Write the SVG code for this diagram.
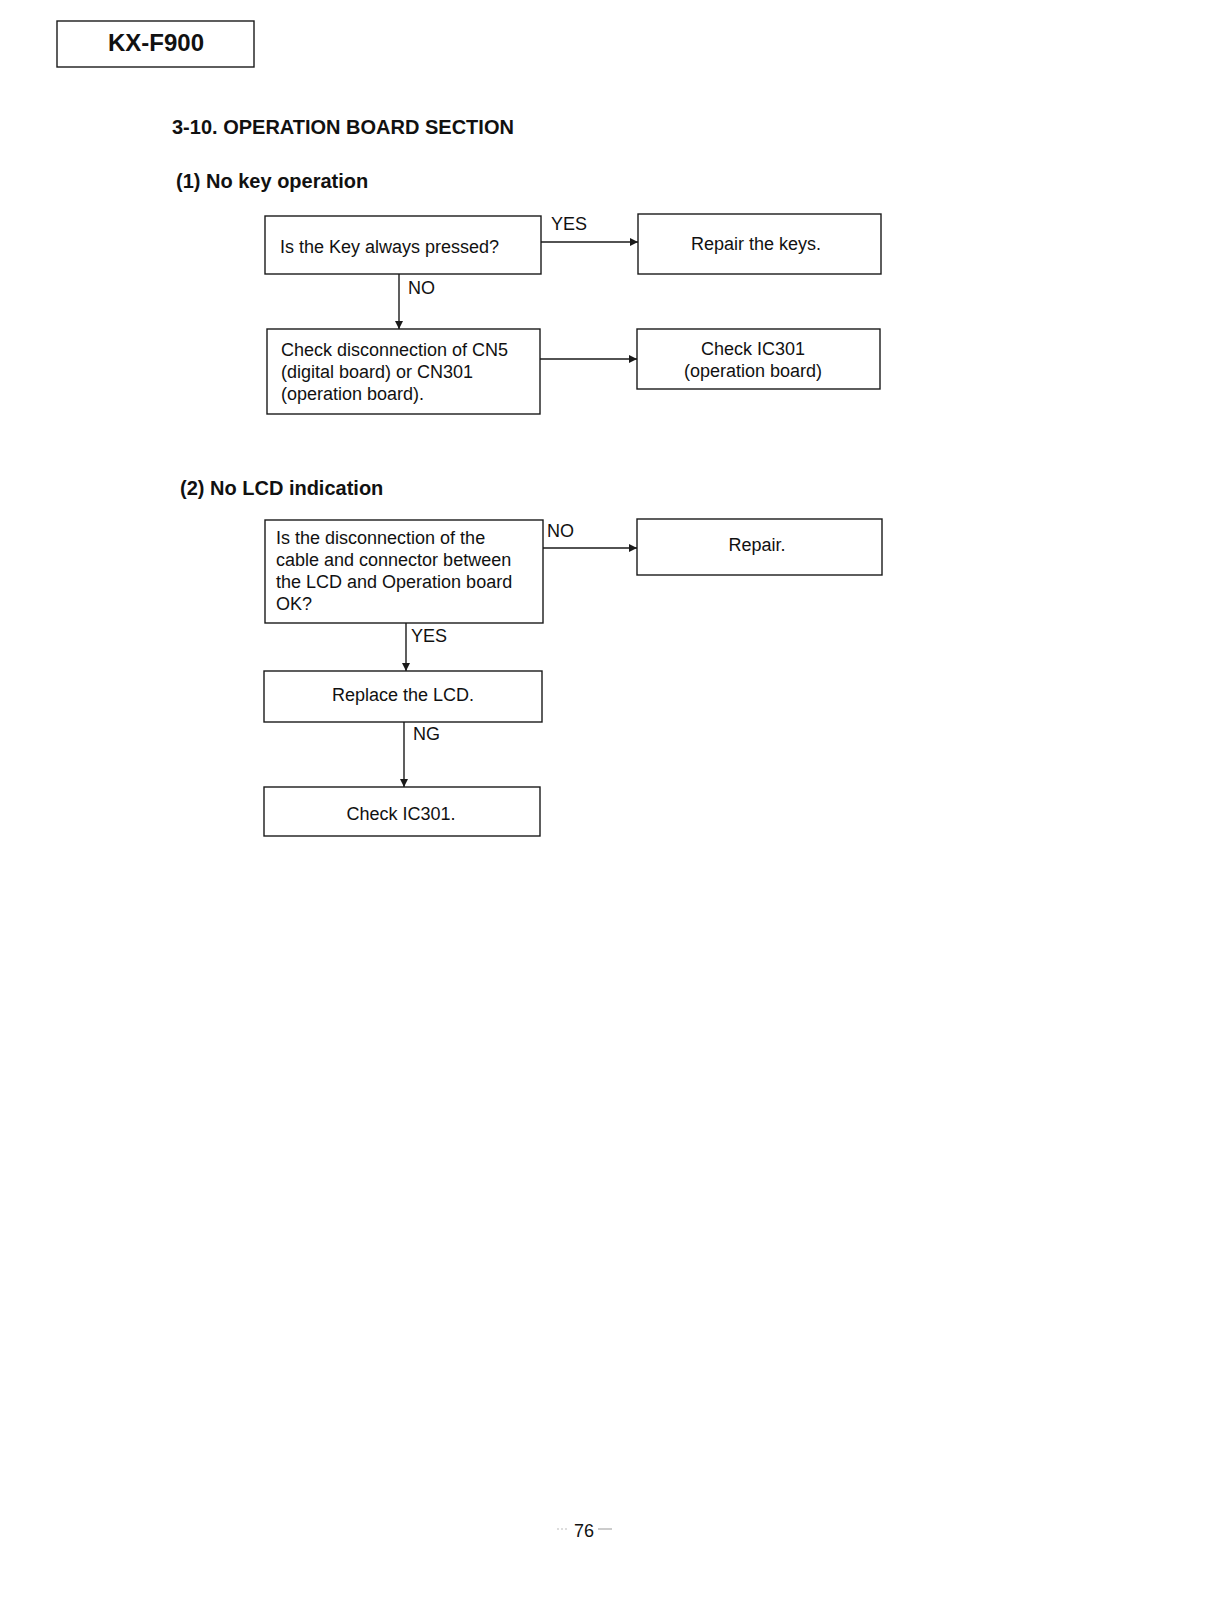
<svg xmlns="http://www.w3.org/2000/svg" width="1216" height="1612" viewBox="0 0 1216 1612">
<defs>
<style>
.box{fill:none;stroke:#1a1a1a;stroke-width:1.4}
.t{font-family:"Liberation Sans",Arial,sans-serif;font-size:18px;fill:#111}
.c{text-anchor:middle}
.h{font-family:"Liberation Sans",Arial,sans-serif;font-weight:bold;fill:#111}
.ln{stroke:#1a1a1a;stroke-width:1.4;fill:none}
</style>
<marker id="ah" viewBox="0 0 10 10" refX="10" refY="5" markerWidth="8" markerHeight="8" markerUnits="userSpaceOnUse" orient="auto">
<path d="M0,0 L10,5 L0,10 z" fill="#1a1a1a"/>
</marker>
</defs>
<rect width="1216" height="1612" fill="#fff"/>

<g id="header">
<rect x="57" y="21" width="197" height="46" class="box" stroke-width="2"/>
<text x="156" y="51" class="h c" font-size="24">KX-F900</text>
<text x="172" y="134" class="h" font-size="20">3-10. OPERATION BOARD SECTION</text>
<text x="176" y="188" class="h" font-size="20">(1) No key operation</text>
<text x="180" y="495" class="h" font-size="20">(2) No LCD indication</text>
</g>

<g id="connectors">
<line x1="541" y1="242" x2="638" y2="242" class="ln" marker-end="url(#ah)"/>
<line x1="399" y1="274" x2="399" y2="329" class="ln" marker-end="url(#ah)"/>
<line x1="540" y1="359" x2="637" y2="359" class="ln" marker-end="url(#ah)"/>
<line x1="543" y1="548" x2="637" y2="548" class="ln" marker-end="url(#ah)"/>
<line x1="406" y1="623" x2="406" y2="671" class="ln" marker-end="url(#ah)"/>
<line x1="404" y1="722" x2="404" y2="787" class="ln" stroke-width="2" marker-end="url(#ah)"/>
<text x="551" y="230" class="t">YES</text>
<text x="408" y="294" class="t" font-size="20">NO</text>
<text x="547" y="537" class="t" font-size="20">NO</text>
<text x="411" y="642" class="t" font-size="18.5">YES</text>
<text x="413" y="740" class="t" font-size="20">NG</text>
</g>

<g id="n1">
<rect x="265" y="216" width="276" height="58" class="box"/>
<text x="280" y="253" class="t">Is the Key always pressed?</text>
</g>
<g id="n2">
<rect x="638" y="214" width="243" height="60" class="box"/>
<text x="756" y="250" class="t c">Repair the keys.</text>
</g>
<g id="n3">
<rect x="267" y="329" width="273" height="85" class="box"/>
<text x="281" y="356" class="t">Check disconnection of CN5</text>
<text x="281" y="378" class="t">(digital board) or CN301</text>
<text x="281" y="400" class="t">(operation board).</text>
</g>
<g id="n4">
<rect x="637" y="329" width="243" height="60" class="box"/>
<text x="753" y="355" class="t c">Check IC301</text>
<text x="753" y="377" class="t c">(operation board)</text>
</g>
<g id="n5">
<rect x="265" y="520" width="278" height="103" class="box"/>
<text x="276" y="544" class="t">Is the disconnection of the</text>
<text x="276" y="566" class="t">cable and connector between</text>
<text x="276" y="588" class="t">the LCD and Operation board</text>
<text x="276" y="610" class="t">OK?</text>
</g>
<g id="n6">
<rect x="637" y="519" width="245" height="56" class="box"/>
<text x="757" y="551" class="t c">Repair.</text>
</g>
<g id="n7">
<rect x="264" y="671" width="278" height="51" class="box"/>
<text x="403" y="701" class="t c">Replace the LCD.</text>
</g>
<g id="n8">
<rect x="264" y="787" width="276" height="49" class="box"/>
<text x="401" y="820" class="t c">Check IC301.</text>
</g>

<g id="footer">
<line x1="557" y1="1529" x2="567" y2="1529" stroke="#bbb" stroke-width="1" stroke-dasharray="2,2"/>
<line x1="598" y1="1529" x2="612" y2="1529" stroke="#999" stroke-width="1"/>
<text x="584" y="1537" class="t c" font-size="22">76</text>
</g>
</svg>
